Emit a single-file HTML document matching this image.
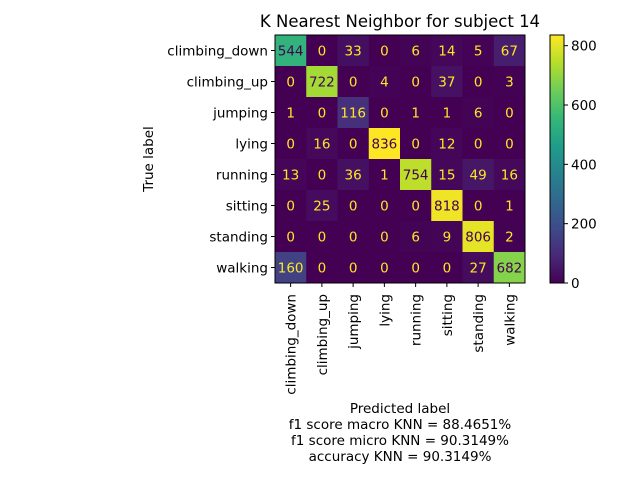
<!DOCTYPE html>
<html><head><meta charset="utf-8"><style>
html,body{margin:0;padding:0;background:#fff;width:640px;height:480px;overflow:hidden}
svg text{font-family:"DejaVu Sans","Liberation Sans",sans-serif;}
</style></head><body>
<svg id="chart" width="640" height="480" viewBox="0 0 640 480" xmlns="http://www.w3.org/2000/svg">
<rect width="640" height="480" fill="#fff"/>
<text x="400" y="27" font-size="16.5" text-anchor="middle">K Nearest Neighbor for subject 14</text>
<g id="cells"></g>
<g id="xt"></g><g id="yt"></g><g id="cb"></g>
<text transform="translate(153,159) rotate(-90)" font-size="13.5" text-anchor="middle">True label</text>
<g font-size="13.5" text-anchor="middle">
<text x="400" y="413">Predicted label</text>
<text x="400" y="429">f1 score macro KNN = 88.4651%</text>
<text x="400" y="445">f1 score micro KNN = 90.3149%</text>
<text x="400" y="461">accuracy KNN = 90.3149%</text>
</g>
</svg>
<script>
const labels=["climbing_down","climbing_up","jumping","lying","running","sitting","standing","walking"];
const matrix=[
[544,0,33,0,6,14,5,67],
[0,722,0,4,0,37,0,3],
[1,0,116,0,1,1,6,0],
[0,16,0,836,0,12,0,0],
[13,0,36,1,754,15,49,16],
[0,25,0,0,0,818,0,1],
[0,0,0,0,6,9,806,2],
[160,0,0,0,0,0,27,682]];
const cbTicks=[0,200,400,600,800];
const NS="http://www.w3.org/2000/svg";
const L=275,T=35,W=250,H=248,n=labels.length,cw=W/n,ch=H/n;
const vmin=0,vmax=Math.max(...matrix.flat());
const stops=[[68,1,84],[72,40,120],[62,74,137],[49,104,142],[38,130,142],[31,158,137],[53,183,121],[109,205,89],[180,222,44],[253,231,37]];
function viridis(t){t=Math.max(0,Math.min(1,t));const p=t*(stops.length-1),i=Math.min(Math.floor(p),stops.length-2),f=p-i;
const c=stops[i].map((v,k)=>Math.round(v+(stops[i+1][k]-v)*f));return `rgb(${c})`;}
function el(tag,attrs,parent){const e=document.createElementNS(NS,tag);for(const k in attrs)e.setAttribute(k,attrs[k]);parent.appendChild(e);return e;}
const xs=j=>L+cw*(j+0.5), ys=i=>T+ch*(i+0.5);
const cells=document.getElementById('cells');
matrix.forEach((row,i)=>row.forEach((v,j)=>{
const r=el('rect',{x:L+cw*j,y:T+ch*i,width:cw+0.5,height:ch+0.5,fill:viridis((v-vmin)/(vmax-vmin))},cells);


const t=el('text',{x:xs(j),y:ys(i)+5,'font-size':13.5,'text-anchor':'middle',fill:v>(vmax+vmin)/2?'#440154':'#fde725'},cells);
t.textContent=v;


}));
el('rect',{x:L,y:T,width:W,height:H,fill:'none',stroke:'#000','stroke-width':1},cells);
const xt=document.getElementById('xt'),yt=document.getElementById('yt');
labels.forEach((lab,k)=>{
el('line',{x1:xs(k),x2:xs(k),y1:T+H,y2:T+H+4,stroke:'#000'},xt);
const t=el('text',{transform:`translate(${xs(k)+5},${T+H+11}) rotate(-90)`,'font-size':13.5,'text-anchor':'end'},xt);
t.textContent=lab;


el('line',{x1:L-4,x2:L,y1:ys(k),y2:ys(k),stroke:'#000'},yt);
const u=el('text',{x:L-7,y:ys(k)+5,'font-size':13.5,'text-anchor':'end'},yt);
u.textContent=lab;


});
const cb=document.getElementById('cb');
const CX=550,CW=14;
const cy=v=>T+H-(v-vmin)/(vmax-vmin)*H;
for(let s=0;s<H;s++){el('rect',{x:CX,y:T+s,width:CW,height:1.2,fill:viridis(1-s/H)},cb);}
el('rect',{x:CX,y:T,width:CW,height:H,fill:'none',stroke:'#000'},cb);


cbTicks.forEach(v=>{
el('line',{x1:CX+CW,x2:CX+CW+4,y1:cy(v),y2:cy(v),stroke:'#000'},cb);
const t=el('text',{x:CX+CW+7,y:cy(v)+5,'font-size':13.5},cb);
t.textContent=v;


});
</script>
</body></html>
